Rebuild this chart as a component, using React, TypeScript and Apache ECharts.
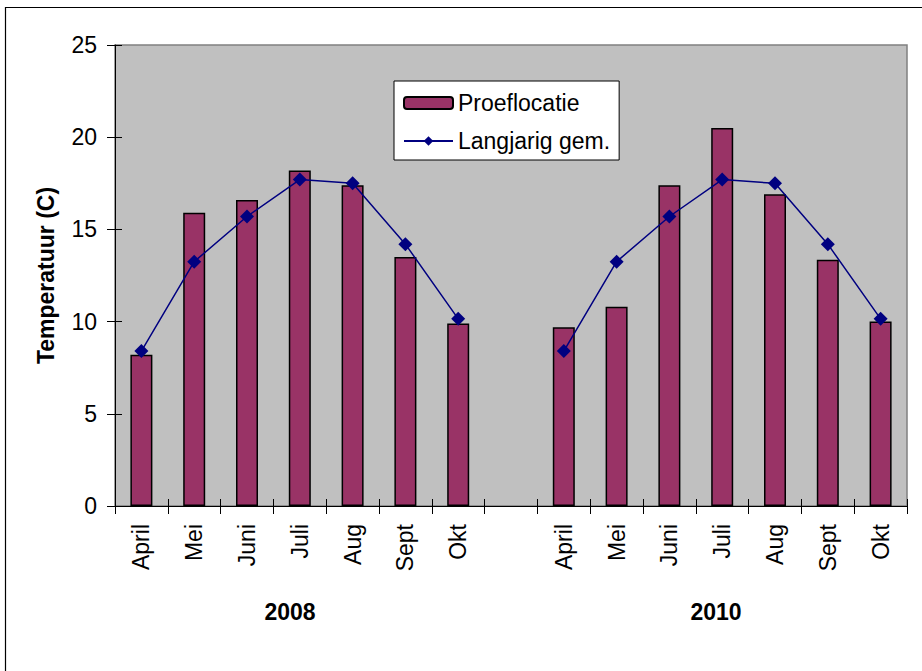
import React, { useEffect, useRef } from "react";
import * as echarts from "echarts";

const categories = ["April", "Mei", "Juni", "Juli", "Aug", "Sept", "Okt", "", "April", "Mei", "Juni", "Juli", "Aug", "Sept", "Okt"];
const proeflocatie = [8.2, 15.9, 16.6, 18.2, 17.4, 13.5, 9.9, null, 9.7, 10.8, 17.4, 20.5, 16.9, 13.35, 10.0];
const langjarig = [8.4, 13.25, 15.7, 17.7, 17.5, 14.2, 10.15, null, 8.4, 13.25, 15.7, 17.7, 17.5, 14.2, 10.15];
const yearLabels = ["2008", "2010"];
const yTicks = { min: 0, max: 25, interval: 5 };

const FONT = "'Liberation Sans', Arial, sans-serif";

export default function App() {
  const ref = useRef<HTMLDivElement>(null);
  useEffect(() => {
    if (!ref.current) return;
    const chart = echarts.init(ref.current, null, { renderer: "svg" });
    chart.setOption({
      animation: false,
      textStyle: { fontFamily: FONT, color: "#000" },
      grid: {
        left: 115,
        right: 15,
        top: 45,
        bottom: 165,
        show: true,
        backgroundColor: "#C0C0C0",
        borderColor: "#808080",
        borderWidth: 1.5,
      },
      legend: {
        orient: "vertical",
        left: 394,
        top: 81,
        backgroundColor: "#fff",
        borderColor: "#000",
        borderWidth: 1,
        borderRadius: 0,
        padding: [10, 9, 7, 9],
        itemWidth: 49,
        itemHeight: 12,
        itemGap: 14,
        textStyle: { fontSize: 23, fontFamily: FONT, color: "#000", lineHeight: 24, padding: [0, 0, 0, 0] },
        data: ["Proeflocatie", "Langjarig gem."],
      },
      xAxis: [
        {
          type: "category",
          data: categories,
          position: "bottom",
          axisLine: { show: true, lineStyle: { color: "#000", width: 1 } },
          axisTick: { show: true, inside: false, length: 8, lineStyle: { color: "#000" } },
          axisLabel: { rotate: 90, interval: 0, fontSize: 23, color: "#000", margin: 18, fontFamily: FONT },
          splitLine: { show: false },
        },
        {
          type: "category",
          data: categories,
          position: "bottom",
          offset: 0,
          axisLine: { show: false },
          axisTick: { show: true, inside: true, length: 7, lineStyle: { color: "#000" } },
          axisLabel: { show: false },
          splitLine: { show: false },
        },
      ],
      yAxis: [
        {
          type: "value",
          min: yTicks.min,
          max: yTicks.max,
          interval: yTicks.interval,
          position: "left",
          name: "Temperatuur (C)",
          nameLocation: "middle",
          nameGap: 58,
          nameTextStyle: { fontSize: 23, fontWeight: "bold", color: "#000", fontFamily: FONT },
          axisLine: { show: true, lineStyle: { color: "#000", width: 1 } },
          axisTick: { show: true, inside: false, length: 8, lineStyle: { color: "#000" } },
          axisLabel: { fontSize: 23, color: "#000", margin: 18, fontFamily: FONT },
          splitLine: { show: false },
        },
        {
          type: "value",
          min: yTicks.min,
          max: yTicks.max,
          interval: yTicks.interval,
          position: "left",
          offset: 0,
          axisLine: { show: false },
          axisTick: { show: true, inside: true, length: 7, lineStyle: { color: "#000" } },
          axisLabel: { show: false },
          splitLine: { show: false },
        },
      ],
      series: [
        {
          name: "Proeflocatie",
          type: "bar",
          data: proeflocatie,
          barWidth: 22,
          itemStyle: { color: "#993366", borderColor: "#000", borderWidth: 1.5 },
        },
        {
          name: "Langjarig gem.",
          type: "line",
          data: langjarig,
          connectNulls: false,
          symbol: "diamond",
          symbolSize: 14,
          lineStyle: { color: "#000080", width: 1.5 },
          itemStyle: { color: "#000080" },
        },
      ],
      graphic: [
        {
          type: "rect",
          shape: { x: 5.5, y: 7.5, width: 1000, height: 1000 },
          style: { fill: "none", stroke: "#000", lineWidth: 1.2 },
          silent: true,
        },
        {
          type: "text",
          x: 290,
          y: 612,
          style: { text: yearLabels[0], fontSize: 23, fontWeight: "bold", fill: "#000", fontFamily: FONT, align: "center", verticalAlign: "middle" },
        },
        {
          type: "text",
          x: 716,
          y: 612,
          style: { text: yearLabels[1], fontSize: 23, fontWeight: "bold", fill: "#000", fontFamily: FONT, align: "center", verticalAlign: "middle" },
        },
      ],
    });
    return () => chart.dispose();
  }, []);
  return <div ref={ref} style={{ position: "fixed", left: 0, top: 0, width: 922, height: 671, background: "#fff" }} />;
}
